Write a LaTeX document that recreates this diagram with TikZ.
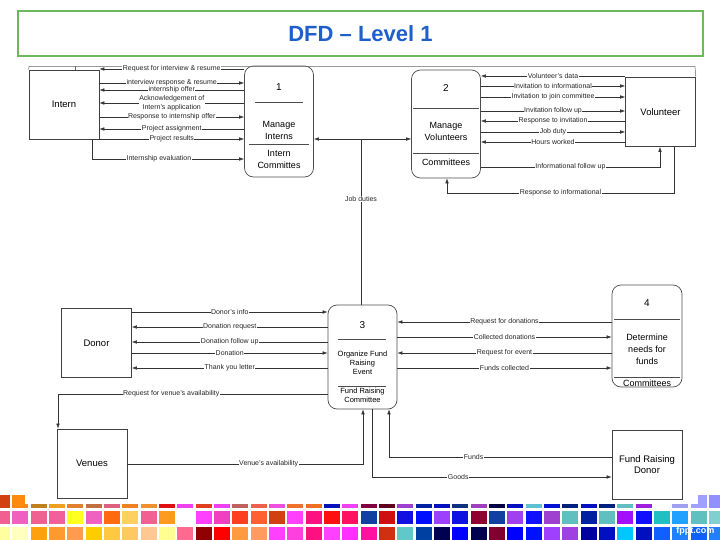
\documentclass[tikz,border=0pt]{standalone}
\usepackage{fontspec}
\setmainfont{Liberation Sans}
\usetikzlibrary{arrows.meta}

\definecolor{titlegreen}{HTML}{6CB85A}
\definecolor{titleblue}{HTML}{1E5FCC}
\definecolor{linegray}{HTML}{333333}

\begin{document}
\begin{tikzpicture}[x=1pt, y=-1pt,
    flow/.style={draw=linegray, line width=0.6pt},
    arr/.style={flow, -{Latex[length=5pt,width=3.6pt]}},
    lbl/.style={fill=white, inner sep=0.5pt, align=center, font=\fontsize{7}{8.5}\selectfont, text=black!85},
    entity/.style={draw=black!75, line width=0.7pt, minimum width=70, minimum height=69, inner sep=0, align=center, font=\fontsize{9.5}{11.5}\selectfont},
    proc/.style={draw=black!70, line width=0.7pt, rounded corners=9pt, minimum width=69, inner sep=0},
    ptext/.style={align=center, font=\fontsize{9}{12}\selectfont},
    psmall/.style={align=center, font=\fontsize{7.5}{9}\selectfont},
    pnum/.style={font=\fontsize{10}{12}\selectfont},
    divider/.style={draw=black!70, line width=0.5pt}]

    \useasboundingbox (0,0) rectangle (720,540);

    \foreach \c [count=\k from 0] in {D04010,FF8A10,C08020,F0A020,E08030,C07040,E06080,F08020,F09030,E01010,F040F0,E04020,F040F0,C06060,F06050,F050E0,F07030,F07020,0010C0,F040F0,800040,600020,A040D0,0020A0,0010C0,103080,A040C0,000040,0010C0,60C0D0,0010D0,002080,0010C0,002080,60C0C0,A020E0,FFFFFF,A0A0F0,A0A0FF,9090FF}
        {\definecolor{sq}{HTML}{\c}\fill[sq] ({-6+18.33*\k},495) rectangle ++(16,13);}
    \foreach \c [count=\k from 0] in {F06090,F060C0,F06090,F0609A,FFFF20,F060C0,FF6A10,FFD060,F06090,FF9A20,FFFFFF,FF40FF,F040C0,FF4020,FF6030,D04010,FF40FF,FF1080,FF1010,FF1060,1040A0,D01010,1010E0,0010FF,A040FF,1010E0,900030,1040A0,A040F0,1010FF,A040D0,60C0C0,0020A0,60C0C0,A010FF,1010FF,20C0C0,20A0FF,60C0C0,80D0D0}
        {\definecolor{sq}{HTML}{\c}\fill[sq] ({-6+18.33*\k},511) rectangle ++(16,13);}
    \foreach \c [count=\k from 0] in {FFFFA0,FFFFC0,FFA010,FF9A30,FF9A50,FFCC00,FFC840,FFC860,FFC890,FFFF90,FF6A90,900000,FF0000,FF9A40,FF9A60,FF40FF,FF40E0,FF1080,FF40FF,FF30FF,FF10A0,D03010,60C8C8,0040A0,000050,0000FF,000050,800030,0000FF,0010FF,A040FF,A040E0,0000A0,0010C0,00C8FF,0010C0,1060FF,2080FF,1060FF,2080FF}
        {\definecolor{sq}{HTML}{\c}\fill[sq] ({-6+18.33*\k},527) rectangle ++(16,14);}
    \fill[white] (25,480) rectangle (698,504);
    \node[text=white, font=\bfseries\fontsize{9}{10}\selectfont, anchor=east] (logo) at (718,531) {fppt.com};

    \node[draw=titlegreen, line width=1.2pt, minimum width=685, minimum height=45, inner sep=0,
          text=titleblue, font=\bfseries\fontsize{22}{26}\selectfont] (title) at (360.5,33.5) {DFD -- Level 1};

    \node[entity] (intern) at (64,104.5) {Intern};
    \node[entity] (vol) at (660.5,112) {Volunteer};
    \node[entity] (donor) at (96.5,343) {Donor};
    \node[entity] (venues) at (92,463.5) {Venues};
    \node[entity] (frd) at (647,464.5) {Fund Raising\\Donor};

    \node[proc, minimum height=111] (p1) at (279,121.5) {};
    \node[proc, minimum height=108] (p2) at (446,124) {};
    \node[proc, minimum height=104] (p3) at (362.5,357) {};
    \node[proc, minimum height=102, minimum width=70] (p4) at (647,336) {};

    \node[pnum] (p1num) at (279,87) {1};
    \draw[divider] (255,102) -- (303,102);
    \node[ptext] (p1name) at (279,130) {Manage\\Interns};
    \draw[divider] (249,144) -- (309,144);
    \node[ptext] (p1store) at (279,159.5) {Intern\\Committes};

    \node[pnum] (p2num) at (446,88) {2};
    \draw[divider] (413,108) -- (479,108);
    \node[ptext] (p2name) at (446,131.5) {Manage\\Volunteers};
    \draw[divider] (413,153) -- (479,153);
    \node[ptext] (p2store) at (446,162.5) {Committees};

    \node[pnum] (p3num) at (362.5,325) {3};
    \draw[divider] (338,339) -- (386,339);
    \node[psmall] (p3name) at (362.5,363) {Organize Fund\\Raising\\Event};
    \draw[divider] (338,386) -- (386,386);
    \node[psmall] (p3store) at (362.5,395) {Fund Raising\\Committee};

    \node[pnum] (p4num) at (647,303) {4};
    \draw[divider] (614,319) -- (680,319);
    \node[ptext] (p4name) at (647,349.5) {Determine\\needs for\\funds};
    \draw[divider] (614,377) -- (680,377);
    \node[ptext] (p4store) at (647,383.5) {Committees};

    \draw[flow, black!60, line width=0.5pt] (intern.north west) -- (29,66.5) -- (695,66.5) -- (vol.north east);
    \draw[flow, black!60, line width=0.5pt] (75,66.5) -- (intern.north -| 75,0);

    \draw[arr] (p1.west |- 0,69) -- node[lbl]{Request for interview \& resume} (intern.east |- 0,69);
    \draw[arr] (intern.east |- 0,83) -- node[lbl]{interview response \& resume} (p1.west |- 0,83);
    \draw[arr] (p1.west |- 0,90) -- node[lbl]{internship offer} (intern.east |- 0,90);
    \draw[arr] (p1.west |- 0,103) -- node[lbl]{Acknowledgement of\\Intern's application} (intern.east |- 0,103);
    \draw[arr] (intern.east |- 0,117) -- node[lbl]{Response to internship offer} (p1.west |- 0,117);
    \draw[arr] (p1.west |- 0,129) -- node[lbl]{Project assignment} (intern.east |- 0,129);
    \draw[arr] (intern.east |- 0,139) -- node[lbl]{Project results} (p1.west |- 0,139);
    \draw[arr] (intern.south -| 92,0) |- node[lbl, pos=0.72]{Internship evaluation} (p1.west |- 0,159);

    \draw[arr] (vol.west |- 0,76) -- node[lbl]{Volunteer's data} (p2.east |- 0,76);
    \draw[arr] (p2.east |- 0,86) -- node[lbl]{Invitation to informational} (vol.west |- 0,86);
    \draw[arr] (p2.east |- 0,97) -- node[lbl]{Invitation to join committee} (vol.west |- 0,97);
    \draw[arr] (p2.east |- 0,111) -- node[lbl]{Invitation follow up} (vol.west |- 0,111);
    \draw[arr] (vol.west |- 0,121) -- node[lbl]{Response to invitation} (p2.east |- 0,121);
    \draw[arr] (p2.east |- 0,132) -- node[lbl]{Job duty} (vol.west |- 0,132);
    \draw[arr] (vol.west |- 0,142) -- node[lbl]{Hours worked} (p2.east |- 0,142);
    \draw[arr] (p2.east |- 0,167) -| node[lbl, pos=0.25]{Informational follow up} (vol.south -| 660,0);
    \draw[arr] (vol.south -| 674,0) -- (674,193) -| node[lbl, pos=0.25]{Response to informational} (p2.south -| 447,0);

    \coordinate (jd) at (361,139);
    \draw[flow] (p3.north -| jd) -- node[lbl, pos=0.64]{Job duties} (jd);
    \draw[arr] (jd) -- (p1.east |- jd);
    \draw[arr] (jd) -- (p2.west |- jd);

    \draw[arr] (donor.east |- 0,312) -- node[lbl]{Donor's info} (p3.west |- 0,312);
    \draw[arr] (p3.west |- 0,327) -- node[lbl]{Donation request} (donor.east |- 0,327);
    \draw[arr] (p3.west |- 0,342) -- node[lbl]{Donation follow up} (donor.east |- 0,342);
    \draw[arr] (donor.east |- 0,353) -- node[lbl]{Donation} (p3.west |- 0,353);
    \draw[arr] (p3.west |- 0,368) -- node[lbl]{Thank you letter} (donor.east |- 0,368);

    \draw[arr] (p4.west |- 0,322) -- node[lbl]{Request for donations} (p3.east |- 0,322);
    \draw[arr] (p3.east |- 0,337) -- node[lbl]{Collected donations} (p4.west |- 0,337);
    \draw[arr] (p4.west |- 0,353) -- node[lbl]{Request for event} (p3.east |- 0,353);
    \draw[arr] (p3.east |- 0,368) -- node[lbl]{Funds collected} (p4.west |- 0,368);

    \draw[arr] (p3.west |- 0,394) -| node[lbl, pos=0.29]{Request for venue's availability} (venues.north -| 58,0);
    \draw[arr] (venues.east |- 0,464) -| node[lbl, pos=0.3]{Venue's availability} (p3.south -| 363,0);
    \draw[arr] (frd.west |- 0,457) -| node[lbl, pos=0.31]{Funds} (p3.south -| 389,0);
    \draw[arr] (p3.south -| 372,0) |- node[lbl, pos=0.68]{Goods} (frd.west |- 0,477);
\end{tikzpicture}
\end{document}
